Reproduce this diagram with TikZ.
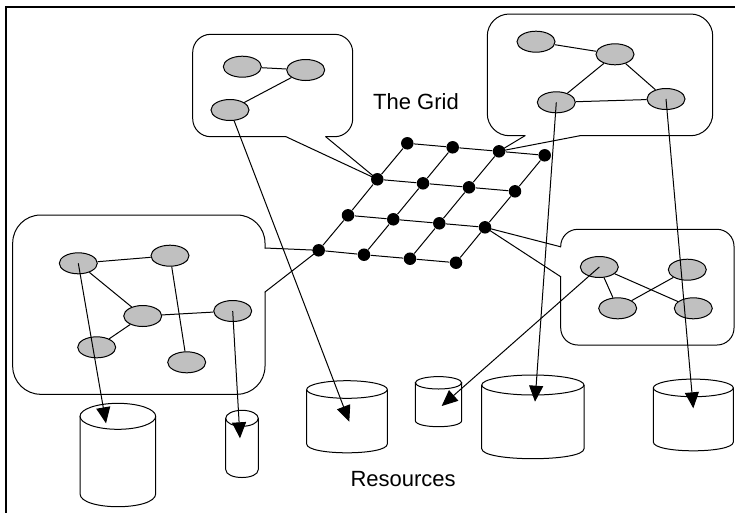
\documentclass[tikz,border=0pt]{standalone}
\usepackage{fontspec}
\setmainfont{Liberation Sans}
\usetikzlibrary{shapes.geometric,arrows.meta}
\definecolor{nodegray}{HTML}{C0C0C0}
\newcommand\rescyl[5]{%
  \draw[cylline] (#1,#3) -- (#1,#4) .. controls (#1,{#4+4/3*#5}) and (#2,{#4+4/3*#5}) .. (#2,#4) -- (#2,#3);
  \draw[cylline] ({(#1+#2)/2},#3) ellipse [x radius={(#2-#1)/2}, y radius=#5];
}
\begin{document}
\begin{tikzpicture}[x=1pt,y=-1pt,line width=1pt,
  ell/.style={ellipse,draw,fill=nodegray,minimum width=38pt,minimum height=21pt,inner sep=0pt},
  dot/.style={circle,fill=black,minimum size=12.5pt,inner sep=0pt},
  link/.style={draw},
  callout/.style={draw,line cap=round},
  pointer/.style={draw,line cap=round,line join=miter},
  arr/.style={draw,-{Triangle[length=16pt,width=14pt]}},
  cylline/.style={draw},
  lbl/.style={font=\fontsize{22}{26}\selectfont,inner sep=0pt},
  frame/.style={draw,line width=2pt}]
\useasboundingbox (0,0) rectangle (735,512);
\clip (0,0) rectangle (735,512);
% frame
\draw[frame] (5.7,530) -- (5.7,7) -- (760,7);
% grid dots
\node[dot] (g11) at (407.3,143.3) {};
\node[dot] (g12) at (452.7,147.3) {};
\node[dot] (g13) at (499,151.3) {};
\node[dot] (g14) at (544.7,155.3) {};
\node[dot] (g21) at (377.3,179.3) {};
\node[dot] (g22) at (423,183.3) {};
\node[dot] (g23) at (469,187.3) {};
\node[dot] (g24) at (515,191.3) {};
\node[dot] (g31) at (348,215.3) {};
\node[dot] (g32) at (393.3,219.3) {};
\node[dot] (g33) at (439.3,223.3) {};
\node[dot] (g34) at (485,227.3) {};
\node[dot] (g41) at (318.7,250.3) {};
\node[dot] (g42) at (364,254.7) {};
\node[dot] (g43) at (410,258.7) {};
\node[dot] (g44) at (456,262.7) {};
% grid lines
\draw[link] (g11) -- (g12) -- (g13) -- (g14);
\draw[link] (g21) -- (g22) -- (g23) -- (g24);
\draw[link] (g31) -- (g32) -- (g33) -- (g34);
\draw[link] (g41) -- (g42) -- (g43) -- (g44);
\draw[link] (g11) -- (g21) -- (g31) -- (g41);
\draw[link] (g12) -- (g22) -- (g32) -- (g42);
\draw[link] (g13) -- (g23) -- (g33) -- (g43);
\draw[link] (g14) -- (g24) -- (g34) -- (g44);
% callouts
\draw[callout,rounded corners=18] (325.7,136.7) -- (352.7,136.7) -- (352.7,34.3) -- (192.7,34.3) -- (192.7,136.7) -- (286,136.7);
\draw[pointer] (286,136.7) -- (g21.center) -- (325.7,136.7);
\draw[callout,rounded corners=22] (580,135.7) -- (712.7,135.7) -- (712.7,14) -- (487.3,14) -- (487.3,135.7) -- (525,135.7);
\draw[pointer] (525,135.7) -- (g13.center) -- (580,135.7);
\draw[callout,rounded corners=28] (265,292) -- (265,394.3) -- (12.7,394.3) -- (12.7,215) -- (265,215) -- (265,248);
\draw[pointer] (265,248) -- (g41.center) -- (265,292);
\draw[callout,rounded corners=17] (560.7,276.7) -- (560.7,345) -- (734,345) -- (734,229.3) -- (560.7,229.3) -- (560.7,246.8);
\draw[pointer] (560.7,246.8) -- (g34.center) -- (560.7,276.7);
% ellipse nodes
\node[ell] (A1) at (242.3,66.7) {};
\node[ell] (A2) at (305.7,70) {};
\node[ell] (A3) at (230,110) {};
\node[ell] (B1) at (536,41.7) {};
\node[ell] (B2) at (615,54.3) {};
\node[ell] (B3) at (556.3,102.3) {};
\node[ell] (B4) at (666,99) {};
\node[ell] (C1) at (78.3,263.3) {};
\node[ell] (C2) at (170,255.7) {};
\node[ell] (C3) at (142.7,316) {};
\node[ell] (C4) at (232.7,311) {};
\node[ell] (C5) at (96.7,347.3) {};
\node[ell] (C6) at (186.7,362.3) {};
\node[ell] (D1) at (599.3,267) {};
\node[ell] (D2) at (687.3,269.7) {};
\node[ell] (D3) at (617.7,308.3) {};
\node[ell] (D4) at (693.3,308.3) {};
% edges inside callouts
\draw[link] (A1) -- (A2);
\draw[link] (A2) -- (A3);
\draw[link] (B1) -- (B2);
\draw[link] (B2) -- (B3);
\draw[link] (B2) -- (B4);
\draw[link] (B3) -- (B4);
\draw[link] (C1) -- (C2);
\draw[link] (C1) -- (C3);
\draw[link] (C3) -- (C4);
\draw[link] (C3) -- (C5);
\draw[link] (C2) -- (C6);
\draw[link] (D1) -- (D3);
\draw[link] (D1) -- (D4);
\draw[link] (D2) -- (D3);
% resources (cylinders)
\rescyl{80}{155.7}{416.3}{493.7}{13}
\rescyl{225.7}{258.3}{418.3}{469.5}{8}
\rescyl{306.7}{387.3}{389.5}{444}{8.8}
\rescyl{415.3}{461.7}{382.8}{420.5}{6.2}
\rescyl{481.7}{584}{385}{448.7}{10}
\rescyl{653.3}{733.3}{387.9}{442}{8.8}
\coordinate (t1) at (106,423.3);
\coordinate (t2) at (240,438.3);
\coordinate (t3) at (349.3,421.7);
\coordinate (t4) at (441.7,406);
\coordinate (t5) at (535,401.7);
\coordinate (t6) at (693.3,408.3);
% arrows to resources
\draw[arr] (A3) -- (t3);
\draw[arr] (B3.center) -- (t5);
\draw[arr] (B4.center) -- (t6);
\draw[arr] (C1.center) -- (t1);
\draw[arr] (C4.center) -- (t2);
\draw[arr] (D1.center) -- (t4);
% labels
\node[lbl,anchor=base west] (gridlbl) at (372.7,109.3) {The Grid};
\node[lbl,anchor=base west] (reslbl) at (350,486) {Resources};
\end{tikzpicture}
\end{document}
